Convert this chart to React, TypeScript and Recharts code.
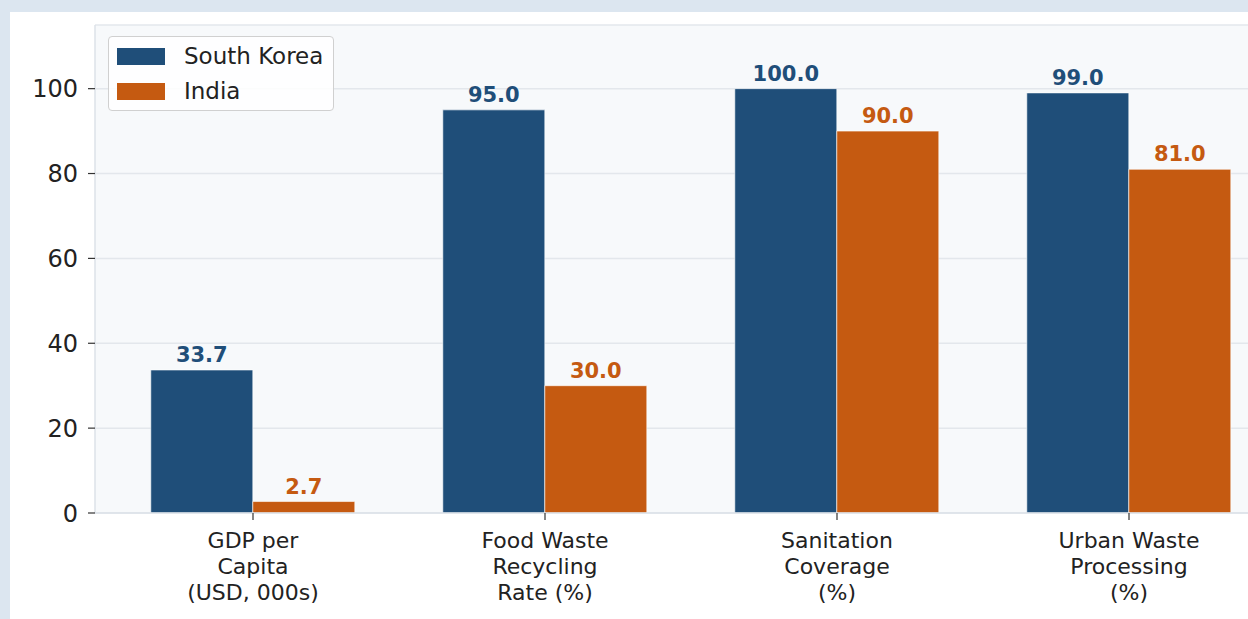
import { Bar, BarChart, CartesianGrid, LabelList, Legend, XAxis, YAxis } from "recharts";

const categories = [
  "GDP per\nCapita\n(USD, 000s)",
  "Food Waste\nRecycling\nRate (%)",
  "Sanitation\nCoverage\n(%)",
  "Urban Waste\nProcessing\n(%)",
];
const southKorea = [33.7, 95.0, 100.0, 99.0];
const india = [2.7, 30.0, 90.0, 81.0];
const yTicks = [0, 20, 40, 60, 80, 100];

const data = categories.map((label, i) => ({
  label,
  southKorea: southKorea[i],
  india: india[i],
}));

const FONT = "'DejaVu Sans', Verdana, sans-serif";
const BLUE = "#1f4e79";
const ORANGE = "#c55a11";

function CategoryTick({ x, y, payload }: any) {
  const lines = String(payload.value).split("\n");
  return (
    <text x={x} y={y} textAnchor="middle" fill="#222" fontSize={22} fontFamily={FONT}>
      {lines.map((line, i) => (
        <tspan key={i} x={x} dy={i === 0 ? 28 : 26}>
          {line}
        </tspan>
      ))}
    </text>
  );
}

function LegendBox() {
  const items = [
    { name: "South Korea", color: BLUE },
    { name: "India", color: ORANGE },
  ];
  return (
    <div
      style={{
        width: 226,
        height: 75,
        boxSizing: "border-box",
        border: "1.5px solid #d0d0d0",
        borderRadius: 4,
        background: "rgba(255,255,255,0.85)",
        padding: "2px 0 0 8px",
        fontFamily: FONT,
        fontSize: 23,
        color: "#222",
      }}
    >
      {items.map((it) => (
        <div key={it.name} style={{ display: "flex", alignItems: "center", height: 35 }}>
          <span style={{ width: 48, height: 17, background: it.color, display: "inline-block" }} />
          <span style={{ marginLeft: 19, lineHeight: "23px" }}>{it.name}</span>
        </div>
      ))}
    </div>
  );
}

export default function App() {
  return (
    <div
      style={{
        position: "fixed",
        left: 0,
        top: 0,
        width: 1248,
        height: 619,
        background: "#dce6f0",
        overflow: "hidden",
      }}
    >
      <div style={{ position: "absolute", left: 10, top: 12, width: 1300, height: 620, background: "#ffffff" }}>
        <BarChart
          width={1290}
          height={607}
          data={data}
          margin={{ top: 13, right: 13, bottom: 0, left: 0 }}
          barCategoryGap="15%"
          barGap={0}
          style={{ fontFamily: FONT }}
        >
          <CartesianGrid fill="#f7f9fb" stroke="#e3e7ec" strokeWidth={1.5} vertical={false} />
          <XAxis
            dataKey="label"
            height={106}
            padding={{ left: 12, right: 12 }}
            axisLine={{ stroke: "#dde2e8", strokeWidth: 1.5 }}
            tickLine={{ stroke: "#333", strokeWidth: 1.2 }}
            tickSize={7}
            tickMargin={0}
            tick={<CategoryTick />}
            interval={0}
          />
          <YAxis
            width={85}
            domain={[0, 115]}
            ticks={yTicks}
            interval={0}
            axisLine={{ stroke: "#dde2e8", strokeWidth: 1.5 }}
            tickLine={{ stroke: "#333", strokeWidth: 1.2 }}
            tickSize={7}
            tickMargin={10}
            tick={{ fill: "#222", fontSize: 24, fontFamily: FONT }}
          />
          <Legend
            layout="horizontal"
            verticalAlign="middle"
            align="center"
            wrapperStyle={{ left: 98, top: 24, width: 226, height: 75 }}
            content={() => <LegendBox />}
          />
          <Bar dataKey="southKorea" name="South Korea" fill={BLUE} stroke="#ffffff" strokeWidth={0.6} isAnimationActive={false}>
            <LabelList
              dataKey="southKorea"
              position="top"
              offset={8}
              fill={BLUE}
              fontSize={21}
              fontWeight="bold"
              fontFamily={FONT}
              formatter={(v: any) => Number(v).toFixed(1)}
            />
          </Bar>
          <Bar dataKey="india" name="India" fill={ORANGE} stroke="#ffffff" strokeWidth={0.6} isAnimationActive={false}>
            <LabelList
              dataKey="india"
              position="top"
              offset={8}
              fill={ORANGE}
              fontSize={21}
              fontWeight="bold"
              fontFamily={FONT}
              formatter={(v: any) => Number(v).toFixed(1)}
            />
          </Bar>
        </BarChart>
      </div>
    </div>
  );
}
